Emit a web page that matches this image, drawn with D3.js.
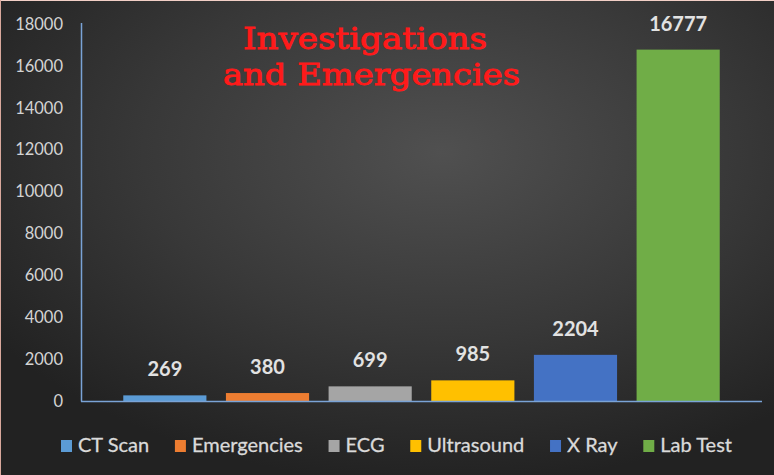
<!DOCTYPE html>
<html><head><meta charset="utf-8">
<script src="https://cdn.jsdelivr.net/npm/d3@7"></script>
<style>html,body{margin:0;padding:0;background:#2a2a2a;}svg{display:block;}</style>
</head><body>
<svg id="chart" width="774" height="475"></svg>
<script>
const categories = ["CT Scan","Emergencies","ECG","Ultrasound","X Ray","Lab Test"];
const values = [269,380,699,985,2204,16777];
const colors = ["#5b9bd5","#ed7d31","#a5a5a5","#ffc000","#4472c4","#70ad47"];
const yTicks = [0,2000,4000,6000,8000,10000,12000,14000,16000,18000];
const titleLines = ["Investigations","and Emergencies"];

const W = 774, H = 475;
const svg = d3.select("#chart");
const defs = svg.append("defs");
const rg = defs.append("radialGradient").attr("id","bg")
  .attr("cx","57%").attr("cy","32%").attr("r","70%");
rg.append("stop").attr("offset","0%").attr("stop-color","#505050");
rg.append("stop").attr("offset","55%").attr("stop-color","#383838");
rg.append("stop").attr("offset","100%").attr("stop-color","#222222");
svg.append("rect").attr("width",W).attr("height",H).attr("fill","url(#bg)");
// thin border
svg.append("line").attr("x1",0).attr("y1",0.5).attr("x2",W).attr("y2",0.5).attr("stroke","#f2cfc6").attr("stroke-width",1);
svg.append("line").attr("x1",0.5).attr("y1",0).attr("x2",0.5).attr("y2",H).attr("stroke","#d9a89c").attr("stroke-width",1);

const y = d3.scaleLinear().domain([0,18000]).range([401,24]);
const x = d3.scaleBand().domain(categories).range([113,730]).paddingInner(0.19).paddingOuter(0.1);

// y tick labels
svg.append("g").selectAll("text").data(yTicks).join("text")
  .attr("x",63).attr("y",d=>y(d)).attr("dy","0.35em")
  .attr("text-anchor","end")
  .attr("font-family","Lato, 'Open Sans', sans-serif").attr("font-size",16.5)
  .attr("fill","#d4d4d4").text(d=>d);

// bars
svg.append("g").selectAll("rect").data(values).join("rect")
  .attr("x",(d,i)=>x(categories[i])).attr("width",x.bandwidth())
  .attr("y",d=>y(d)).attr("height",d=>y(0)-y(d))
  .attr("fill",(d,i)=>colors[i]);

// axes lines
svg.append("line").attr("x1",81.5).attr("x2",81.5).attr("y1",y(18000)-1).attr("y2",y(0)+0.5)
  .attr("stroke","#7aa3d6").attr("stroke-width",1.5);
svg.append("line").attr("x1",81).attr("x2",762).attr("y1",y(0)+0.5).attr("y2",y(0)+0.5)
  .attr("stroke","#7aa3d6").attr("stroke-width",1.5);

// value labels
svg.append("g").selectAll("text").data(values).join("text")
  .attr("x",(d,i)=>x(categories[i])+x.bandwidth()/2)
  .attr("y",d=>y(d)-19)
  .attr("text-anchor","middle")
  .attr("font-family","Lato, 'Open Sans', sans-serif").attr("font-weight","bold")
  .attr("font-size",20).attr("fill","#e2e2e2").text(d=>d);

// title
const tX = [243,223], tY = [49,85], tL = [244,297];
svg.append("g").selectAll("text").data(titleLines).join("text")
  .attr("x",(d,i)=>tX[i]).attr("y",(d,i)=>tY[i])
  .attr("textLength",(d,i)=>tL[i]).attr("lengthAdjust","spacingAndGlyphs")
  .attr("font-family","'DejaVu Serif', serif").attr("font-size",30)
  .attr("fill","#ff1a1a").attr("stroke","#ff1a1a").attr("stroke-width",0.9)
  .text(d=>d);

// legend
const lg = svg.append("g");
const items = lg.selectAll("g").data(categories).join("g");
items.append("rect").attr("width",11).attr("height",12).attr("y",-12).attr("fill",(d,i)=>colors[i]);
items.append("text").attr("x",17).attr("y",0)
  .attr("font-family","Lato, 'Open Sans', sans-serif").attr("font-size",20)
  .attr("fill","#dadada").attr("stroke","#dadada").attr("stroke-width",0.3).text(d=>d);
const widths = [];
items.each(function(){ widths.push(17 + d3.select(this).select("text").node().getComputedTextLength()); });
const totalW = 671, start = 61;
const gap = (totalW - d3.sum(widths)) / (categories.length - 1);
let cx = start;
items.attr("transform",(d,i)=>{ const t = `translate(${cx},452)`; cx += widths[i] + gap; return t; });
</script>
</body></html>
